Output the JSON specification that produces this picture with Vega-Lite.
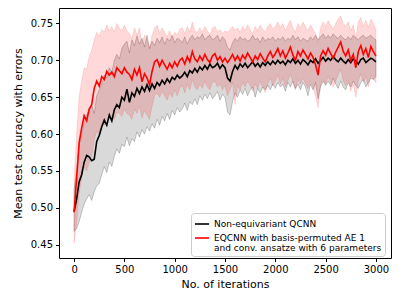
{
"$schema": "https://vega.github.io/schema/vega-lite/v6.json",
"width": 332, "height": 250,
"autosize": {"type": "none"},
"padding": {"left": 59, "top": 8, "right": 8, "bottom": 41},
"config": {
 "view": {"stroke": "#000000", "strokeWidth": 1},
 "font": "DejaVu Sans",
 "axis": {"domain": false, "grid": false, "tickColor": "#000000", "tickSize": 3.5, "labelFontSize": 10, "labelColor": "#000000", "titleFontSize": 11, "titleFontWeight": "normal", "titleColor": "#000000", "labelFont": "DejaVu Sans", "titleFont": "DejaVu Sans"},
 "legend": {"labelFont": "DejaVu Sans"},
 "style": {"guide-label": {"lineHeight": 10}}
},
"data": {"values": [
{"it":0,"bm":0.495,"bl":0.468,"bh":0.525,"rm":0.494,"rl":0.452,"rh":0.538},
{"it":25,"bm":0.512,"bl":0.472,"bh":0.548,"rm":0.540,"rl":0.480,"rh":0.600},
{"it":50,"bm":0.535,"bl":0.481,"bh":0.585,"rm":0.588,"rl":0.520,"rh":0.650},
{"it":75,"bm":0.545,"bl":0.494,"bh":0.598,"rm":0.608,"rl":0.540,"rh":0.672},
{"it":100,"bm":0.562,"bl":0.505,"bh":0.617,"rm":0.625,"rl":0.556,"rh":0.690},
{"it":125,"bm":0.571,"bl":0.512,"bh":0.626,"rm":0.618,"rl":0.550,"rh":0.688},
{"it":150,"bm":0.569,"bl":0.518,"bh":0.632,"rm":0.634,"rl":0.562,"rh":0.705},
{"it":175,"bm":0.564,"bl":0.510,"bh":0.640,"rm":0.640,"rl":0.570,"rh":0.714},
{"it":200,"bm":0.566,"bl":0.522,"bh":0.628,"rm":0.662,"rl":0.592,"rh":0.728},
{"it":225,"bm":0.590,"bl":0.530,"bh":0.652,"rm":0.672,"rl":0.604,"rh":0.738},
{"it":250,"bm":0.598,"bl":0.533,"bh":0.660,"rm":0.665,"rl":0.600,"rh":0.732},
{"it":275,"bm":0.610,"bl":0.545,"bh":0.668,"rm":0.678,"rl":0.615,"rh":0.742},
{"it":300,"bm":0.619,"bl":0.556,"bh":0.680,"rm":0.674,"rl":0.612,"rh":0.738},
{"it":325,"bm":0.612,"bl":0.548,"bh":0.676,"rm":0.685,"rl":0.622,"rh":0.748},
{"it":350,"bm":0.626,"bl":0.562,"bh":0.690,"rm":0.680,"rl":0.620,"rh":0.740},
{"it":375,"bm":0.618,"bl":0.556,"bh":0.684,"rm":0.684,"rl":0.625,"rh":0.746},
{"it":400,"bm":0.633,"bl":0.570,"bh":0.700,"rm":0.678,"rl":0.620,"rh":0.738},
{"it":425,"bm":0.640,"bl":0.580,"bh":0.708,"rm":0.690,"rl":0.630,"rh":0.750},
{"it":450,"bm":0.636,"bl":0.574,"bh":0.702,"rm":0.686,"rl":0.628,"rh":0.744},
{"it":475,"bm":0.650,"bl":0.586,"bh":0.716,"rm":0.682,"rl":0.624,"rh":0.740},
{"it":500,"bm":0.646,"bl":0.583,"bh":0.722,"rm":0.690,"rl":0.634,"rh":0.748},
{"it":525,"bm":0.661,"bl":0.596,"bh":0.726,"rm":0.684,"rl":0.628,"rh":0.740},
{"it":550,"bm":0.643,"bl":0.584,"bh":0.710,"rm":0.681,"rl":0.626,"rh":0.736},
{"it":575,"bm":0.656,"bl":0.594,"bh":0.728,"rm":0.674,"rl":0.620,"rh":0.730},
{"it":600,"bm":0.651,"bl":0.590,"bh":0.720,"rm":0.688,"rl":0.634,"rh":0.744},
{"it":625,"bm":0.662,"bl":0.603,"bh":0.733,"rm":0.680,"rl":0.628,"rh":0.734},
{"it":650,"bm":0.655,"bl":0.596,"bh":0.722,"rm":0.690,"rl":0.638,"rh":0.744},
{"it":675,"bm":0.664,"bl":0.606,"bh":0.730,"rm":0.671,"rl":0.622,"rh":0.722},
{"it":700,"bm":0.658,"bl":0.600,"bh":0.718,"rm":0.682,"rl":0.632,"rh":0.734},
{"it":725,"bm":0.667,"bl":0.610,"bh":0.734,"rm":0.676,"rl":0.626,"rh":0.728},
{"it":750,"bm":0.659,"bl":0.604,"bh":0.716,"rm":0.667,"rl":0.620,"rh":0.716},
{"it":775,"bm":0.668,"bl":0.614,"bh":0.726,"rm":0.685,"rl":0.638,"rh":0.734},
{"it":800,"bm":0.662,"bl":0.608,"bh":0.720,"rm":0.698,"rl":0.652,"rh":0.744},
{"it":825,"bm":0.670,"bl":0.620,"bh":0.730,"rm":0.701,"rl":0.656,"rh":0.748},
{"it":850,"bm":0.666,"bl":0.612,"bh":0.724,"rm":0.692,"rl":0.650,"rh":0.736},
{"it":875,"bm":0.673,"bl":0.624,"bh":0.732,"rm":0.700,"rl":0.658,"rh":0.744},
{"it":900,"bm":0.668,"bl":0.618,"bh":0.722,"rm":0.694,"rl":0.652,"rh":0.738},
{"it":925,"bm":0.675,"bl":0.628,"bh":0.730,"rm":0.688,"rl":0.646,"rh":0.732},
{"it":950,"bm":0.670,"bl":0.620,"bh":0.726,"rm":0.696,"rl":0.656,"rh":0.740},
{"it":975,"bm":0.677,"bl":0.632,"bh":0.734,"rm":0.690,"rl":0.650,"rh":0.730},
{"it":1000,"bm":0.674,"bl":0.626,"bh":0.724,"rm":0.698,"rl":0.660,"rh":0.738},
{"it":1025,"bm":0.680,"bl":0.636,"bh":0.730,"rm":0.692,"rl":0.652,"rh":0.734},
{"it":1050,"bm":0.676,"bl":0.630,"bh":0.728,"rm":0.700,"rl":0.662,"rh":0.742},
{"it":1075,"bm":0.679,"bl":0.634,"bh":0.724,"rm":0.703,"rl":0.666,"rh":0.744},
{"it":1100,"bm":0.684,"bl":0.642,"bh":0.732,"rm":0.695,"rl":0.656,"rh":0.736},
{"it":1125,"bm":0.678,"bl":0.632,"bh":0.722,"rm":0.705,"rl":0.668,"rh":0.746},
{"it":1150,"bm":0.686,"bl":0.644,"bh":0.730,"rm":0.698,"rl":0.660,"rh":0.738},
{"it":1175,"bm":0.683,"bl":0.640,"bh":0.734,"rm":0.712,"rl":0.674,"rh":0.752},
{"it":1200,"bm":0.689,"bl":0.648,"bh":0.728,"rm":0.702,"rl":0.664,"rh":0.740},
{"it":1225,"bm":0.684,"bl":0.640,"bh":0.732,"rm":0.698,"rl":0.660,"rh":0.738},
{"it":1250,"bm":0.691,"bl":0.652,"bh":0.730,"rm":0.706,"rl":0.668,"rh":0.744},
{"it":1275,"bm":0.687,"bl":0.646,"bh":0.736,"rm":0.700,"rl":0.662,"rh":0.738},
{"it":1300,"bm":0.693,"bl":0.654,"bh":0.728,"rm":0.708,"rl":0.672,"rh":0.746},
{"it":1325,"bm":0.688,"bl":0.648,"bh":0.732,"rm":0.701,"rl":0.664,"rh":0.740},
{"it":1350,"bm":0.695,"bl":0.656,"bh":0.734,"rm":0.697,"rl":0.660,"rh":0.734},
{"it":1375,"bm":0.690,"bl":0.648,"bh":0.728,"rm":0.706,"rl":0.670,"rh":0.744},
{"it":1400,"bm":0.692,"bl":0.652,"bh":0.730,"rm":0.709,"rl":0.672,"rh":0.746},
{"it":1425,"bm":0.696,"bl":0.658,"bh":0.734,"rm":0.700,"rl":0.664,"rh":0.738},
{"it":1450,"bm":0.689,"bl":0.646,"bh":0.726,"rm":0.705,"rl":0.668,"rh":0.742},
{"it":1475,"bm":0.694,"bl":0.654,"bh":0.732,"rm":0.698,"rl":0.660,"rh":0.736},
{"it":1500,"bm":0.690,"bl":0.650,"bh":0.728,"rm":0.703,"rl":0.666,"rh":0.740},
{"it":1525,"bm":0.676,"bl":0.630,"bh":0.718,"rm":0.697,"rl":0.652,"rh":0.738},
{"it":1550,"bm":0.672,"bl":0.626,"bh":0.714,"rm":0.702,"rl":0.660,"rh":0.742},
{"it":1575,"bm":0.685,"bl":0.644,"bh":0.724,"rm":0.708,"rl":0.670,"rh":0.746},
{"it":1600,"bm":0.693,"bl":0.656,"bh":0.730,"rm":0.700,"rl":0.640,"rh":0.740},
{"it":1625,"bm":0.688,"bl":0.650,"bh":0.726,"rm":0.706,"rl":0.666,"rh":0.744},
{"it":1650,"bm":0.695,"bl":0.660,"bh":0.732,"rm":0.699,"rl":0.660,"rh":0.738},
{"it":1675,"bm":0.691,"bl":0.654,"bh":0.728,"rm":0.707,"rl":0.670,"rh":0.746},
{"it":1700,"bm":0.696,"bl":0.662,"bh":0.730,"rm":0.702,"rl":0.664,"rh":0.740},
{"it":1725,"bm":0.690,"bl":0.652,"bh":0.726,"rm":0.710,"rl":0.672,"rh":0.748},
{"it":1750,"bm":0.694,"bl":0.660,"bh":0.728,"rm":0.704,"rl":0.666,"rh":0.742},
{"it":1775,"bm":0.698,"bl":0.664,"bh":0.734,"rm":0.698,"rl":0.658,"rh":0.736},
{"it":1800,"bm":0.692,"bl":0.650,"bh":0.728,"rm":0.706,"rl":0.668,"rh":0.746},
{"it":1825,"bm":0.696,"bl":0.662,"bh":0.730,"rm":0.701,"rl":0.662,"rh":0.740},
{"it":1850,"bm":0.691,"bl":0.656,"bh":0.724,"rm":0.709,"rl":0.672,"rh":0.748},
{"it":1875,"bm":0.697,"bl":0.664,"bh":0.732,"rm":0.703,"rl":0.664,"rh":0.742},
{"it":1900,"bm":0.693,"bl":0.660,"bh":0.726,"rm":0.698,"rl":0.656,"rh":0.738},
{"it":1925,"bm":0.698,"bl":0.666,"bh":0.730,"rm":0.706,"rl":0.668,"rh":0.746},
{"it":1950,"bm":0.694,"bl":0.660,"bh":0.728,"rm":0.712,"rl":0.676,"rh":0.750},
{"it":1975,"bm":0.699,"bl":0.668,"bh":0.732,"rm":0.704,"rl":0.666,"rh":0.742},
{"it":2000,"bm":0.695,"bl":0.662,"bh":0.726,"rm":0.709,"rl":0.672,"rh":0.746},
{"it":2025,"bm":0.700,"bl":0.670,"bh":0.730,"rm":0.716,"rl":0.680,"rh":0.752},
{"it":2050,"bm":0.696,"bl":0.664,"bh":0.728,"rm":0.706,"rl":0.668,"rh":0.744},
{"it":2075,"bm":0.699,"bl":0.668,"bh":0.732,"rm":0.713,"rl":0.676,"rh":0.750},
{"it":2100,"bm":0.694,"bl":0.658,"bh":0.726,"rm":0.703,"rl":0.664,"rh":0.740},
{"it":2125,"bm":0.700,"bl":0.670,"bh":0.730,"rm":0.710,"rl":0.672,"rh":0.748},
{"it":2150,"bm":0.697,"bl":0.664,"bh":0.728,"rm":0.718,"rl":0.682,"rh":0.754},
{"it":2175,"bm":0.702,"bl":0.672,"bh":0.734,"rm":0.707,"rl":0.670,"rh":0.744},
{"it":2200,"bm":0.696,"bl":0.662,"bh":0.728,"rm":0.700,"rl":0.660,"rh":0.738},
{"it":2225,"bm":0.700,"bl":0.668,"bh":0.732,"rm":0.712,"rl":0.674,"rh":0.750},
{"it":2250,"bm":0.695,"bl":0.660,"bh":0.726,"rm":0.706,"rl":0.668,"rh":0.744},
{"it":2275,"bm":0.701,"bl":0.670,"bh":0.730,"rm":0.714,"rl":0.676,"rh":0.752},
{"it":2300,"bm":0.698,"bl":0.664,"bh":0.728,"rm":0.708,"rl":0.668,"rh":0.746},
{"it":2325,"bm":0.694,"bl":0.652,"bh":0.726,"rm":0.702,"rl":0.662,"rh":0.740},
{"it":2350,"bm":0.700,"bl":0.668,"bh":0.732,"rm":0.710,"rl":0.672,"rh":0.748},
{"it":2375,"bm":0.697,"bl":0.660,"bh":0.728,"rm":0.704,"rl":0.664,"rh":0.742},
{"it":2400,"bm":0.702,"bl":0.670,"bh":0.734,"rm":0.694,"rl":0.652,"rh":0.736},
{"it":2425,"bm":0.696,"bl":0.648,"bh":0.728,"rm":0.680,"rl":0.636,"rh":0.724},
{"it":2450,"bm":0.700,"bl":0.664,"bh":0.732,"rm":0.706,"rl":0.668,"rh":0.744},
{"it":2475,"bm":0.704,"bl":0.672,"bh":0.736,"rm":0.713,"rl":0.674,"rh":0.752},
{"it":2500,"bm":0.699,"bl":0.666,"bh":0.730,"rm":0.707,"rl":0.668,"rh":0.746},
{"it":2525,"bm":0.703,"bl":0.672,"bh":0.734,"rm":0.716,"rl":0.678,"rh":0.754},
{"it":2550,"bm":0.700,"bl":0.666,"bh":0.730,"rm":0.709,"rl":0.670,"rh":0.748},
{"it":2575,"bm":0.705,"bl":0.676,"bh":0.736,"rm":0.703,"rl":0.664,"rh":0.742},
{"it":2600,"bm":0.701,"bl":0.668,"bh":0.732,"rm":0.711,"rl":0.672,"rh":0.750},
{"it":2625,"bm":0.698,"bl":0.662,"bh":0.730,"rm":0.718,"rl":0.680,"rh":0.756},
{"it":2650,"bm":0.703,"bl":0.672,"bh":0.734,"rm":0.725,"rl":0.688,"rh":0.760},
{"it":2675,"bm":0.699,"bl":0.664,"bh":0.730,"rm":0.712,"rl":0.672,"rh":0.750},
{"it":2700,"bm":0.696,"bl":0.660,"bh":0.728,"rm":0.706,"rl":0.666,"rh":0.746},
{"it":2725,"bm":0.701,"bl":0.670,"bh":0.732,"rm":0.714,"rl":0.674,"rh":0.752},
{"it":2750,"bm":0.697,"bl":0.664,"bh":0.728,"rm":0.700,"rl":0.658,"rh":0.740},
{"it":2775,"bm":0.702,"bl":0.672,"bh":0.734,"rm":0.708,"rl":0.668,"rh":0.748},
{"it":2800,"bm":0.699,"bl":0.666,"bh":0.730,"rm":0.690,"rl":0.650,"rh":0.730},
{"it":2825,"bm":0.695,"bl":0.662,"bh":0.728,"rm":0.712,"rl":0.672,"rh":0.752},
{"it":2850,"bm":0.701,"bl":0.670,"bh":0.732,"rm":0.720,"rl":0.682,"rh":0.758},
{"it":2875,"bm":0.703,"bl":0.674,"bh":0.734,"rm":0.708,"rl":0.670,"rh":0.746},
{"it":2900,"bm":0.697,"bl":0.664,"bh":0.730,"rm":0.716,"rl":0.678,"rh":0.754},
{"it":2925,"bm":0.700,"bl":0.670,"bh":0.732,"rm":0.704,"rl":0.664,"rh":0.744},
{"it":2950,"bm":0.703,"bl":0.676,"bh":0.734,"rm":0.719,"rl":0.680,"rh":0.756},
{"it":2975,"bm":0.701,"bl":0.674,"bh":0.730,"rm":0.712,"rl":0.674,"rh":0.750},
{"it":3000,"bm":0.698,"bl":0.678,"bh":0.728,"rm":0.706,"rl":0.670,"rh":0.742}
]},
"layer": [
 {"mark": {"type": "area", "color": "#000000", "fillOpacity": 0.15, "stroke": "#000000", "strokeOpacity": 0.2, "strokeWidth": 1},
  "encoding": {
   "x": {"field": "it", "type": "quantitative", "scale": {"domain": [-150, 3150], "nice": false, "zero": false},
         "axis": {"values": [0, 500, 1000, 1500, 2000, 2500, 3000], "format": "d", "title": "No. of iterations", "titlePadding": 4, "labelPadding": 3}},
   "y": {"field": "bl", "type": "quantitative", "scale": {"domain": [0.432, 0.771], "nice": false, "zero": false},
         "axis": {"values": [0.45, 0.5, 0.55, 0.6, 0.65, 0.7, 0.75], "format": ".2f", "title": "Mean test accuracy with errors", "titlePadding": 7, "labelPadding": 3}},
   "y2": {"field": "bh"}
  }},
 {"mark": {"type": "area", "color": "#ff0000", "fillOpacity": 0.15, "stroke": "#ff0000", "strokeOpacity": 0.12, "strokeWidth": 1},
  "encoding": {
   "x": {"field": "it", "type": "quantitative"},
   "y": {"field": "rl", "type": "quantitative"},
   "y2": {"field": "rh"}
  }},
 {"transform": [{"fold": ["bm", "rm"], "as": ["series", "value"]}],
  "mark": {"type": "line", "strokeWidth": 1.6},
  "encoding": {
   "x": {"field": "it", "type": "quantitative"},
   "y": {"field": "value", "type": "quantitative"},
   "color": {"field": "series", "type": "nominal",
     "scale": {"domain": ["bm", "rm"], "range": ["#000000", "#ff0000"]},
     "legend": {"title": null, "orient": "none", "legendX": 132, "legendY": 205, "gridAlign": "none",
       "symbolType": "stroke", "symbolStrokeWidth": 1.6, "symbolSize": 200,
       "labelFontSize": 9, "labelLimit": 300, "labelColor": "#000000", "rowPadding": 1,
       "strokeColor": "#cccccc", "fillColor": "#ffffff", "cornerRadius": 3, "padding": 3,
       "labelExpr": "datum.value == 'bm' ? 'Non-equivariant QCNN' : ['EQCNN with basis-permuted AE 1', ' and conv. ansatze with 6 parameters']"}}
  }}
]
}
